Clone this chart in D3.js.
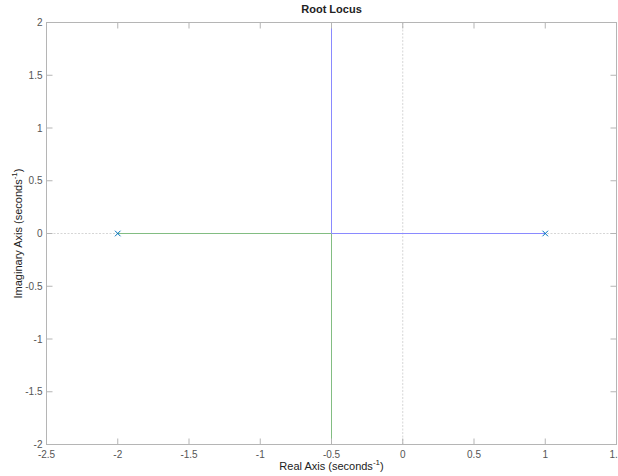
<!DOCTYPE html>
<html>
<head>
<meta charset="utf-8">
<script src="https://cdn.jsdelivr.net/npm/d3@7"></script>
<style>
  body { margin: 0; background: #fff; }
  svg { display: block; font-family: "Liberation Sans", Arial, Helvetica, sans-serif; }
</style>
</head>
<body>
<div id="chart"></div>
<script>
// dati del luogo delle radici
const xTicks = [-2.5, -2, -1.5, -1, -0.5, 0, 0.5, 1, 1.5];
const yTicks = [-2, -1.5, -1, -0.5, 0, 0.5, 1, 1.5, 2];
const poles = [[-2, 0], [1, 0]];
const branchGreen = [[-2, 0], [-0.5, 0], [-0.5, -2.5]];
const branchBlue = [[1, 0], [-0.5, 0], [-0.5, 2.5]];

const width = 618, height = 476;
const margin = { left: 46.5, right: 1.5, top: 22.5, bottom: 31.5 };

const svg = d3.select("#chart").append("svg")
  .attr("width", width)
  .attr("height", height);

const x = d3.scaleLinear().domain([-2.5, 1.5]).range([margin.left, width - margin.right]);
const y = d3.scaleLinear().domain([-2, 2]).range([height - margin.bottom, margin.top]);

svg.append("defs").append("clipPath").attr("id", "clip")
  .append("rect")
  .attr("x", x(-2.5)).attr("y", y(2))
  .attr("width", x(1.5) - x(-2.5)).attr("height", y(-2) - y(2));

// linee tratteggiate sugli assi
svg.append("line")
  .attr("x1", x(-2.5)).attr("x2", x(1.5))
  .attr("y1", y(0)).attr("y2", y(0))
  .attr("stroke", "#d6d6d6").attr("stroke-dasharray", "2,1.5");
svg.append("line")
  .attr("x1", x(0)).attr("x2", x(0))
  .attr("y1", y(2)).attr("y2", y(-2))
  .attr("stroke", "#d6d6d6").attr("stroke-dasharray", "2,1.5");

const line = d3.line().x(d => x(d[0])).y(d => y(d[1]));
const plot = svg.append("g").attr("clip-path", "url(#clip)");
plot.append("path").datum(branchGreen)
  .attr("d", line).attr("fill", "none").attr("stroke", "#82bd82").attr("stroke-width", 1);
plot.append("path").datum(branchBlue)
  .attr("d", line).attr("fill", "none").attr("stroke", "#8a8aff").attr("stroke-width", 1);

// poli
svg.selectAll(".pole").data(poles).enter().append("path")
  .attr("class", "pole")
  .attr("d", d3.symbol(d3.symbolX, 22))
  .attr("transform", d => `translate(${x(d[0])},${y(d[1])})`)
  .attr("fill", "none").attr("stroke", "#0072bd").attr("stroke-width", 1);

// assi
const axisColor = "#b5b5b5";
const tickLen = 6;
const axes = svg.append("g");

xTicks.forEach(t => {
  axes.append("line").attr("x1", x(t)).attr("x2", x(t))
    .attr("y1", y(-2)).attr("y2", y(-2) - tickLen).attr("stroke", axisColor);
  axes.append("line").attr("x1", x(t)).attr("x2", x(t))
    .attr("y1", y(2)).attr("y2", y(2) + tickLen).attr("stroke", axisColor);
  axes.append("text").attr("x", x(t)).attr("y", y(-2) + 13)
    .attr("text-anchor", "middle").attr("font-size", 10).attr("fill", "#555")
    .text(t);
});
yTicks.forEach(t => {
  axes.append("line").attr("x1", x(-2.5)).attr("x2", x(-2.5) + tickLen)
    .attr("y1", y(t)).attr("y2", y(t)).attr("stroke", axisColor);
  axes.append("line").attr("x1", x(1.5)).attr("x2", x(1.5) - tickLen)
    .attr("y1", y(t)).attr("y2", y(t)).attr("stroke", axisColor);
  axes.append("text").attr("x", x(-2.5) - 4).attr("y", y(t) + 3.5)
    .attr("text-anchor", "end").attr("font-size", 10).attr("fill", "#555")
    .text(t);
});
axes.append("rect")
  .attr("x", x(-2.5)).attr("y", y(2))
  .attr("width", x(1.5) - x(-2.5)).attr("height", y(-2) - y(2))
  .attr("fill", "none").attr("stroke", axisColor);

// titolo ed etichette
const cx = (x(-2.5) + x(1.5)) / 2;
svg.append("text").attr("x", cx).attr("y", 13)
  .attr("text-anchor", "middle").attr("font-size", 11).attr("font-weight", "bold").attr("fill", "#222")
  .text("Root Locus");

const xl = svg.append("text").attr("x", cx).attr("y", 470)
  .attr("text-anchor", "middle").attr("font-size", 11).attr("fill", "#222");
xl.append("tspan").text("Real Axis (seconds");
xl.append("tspan").attr("dy", -5).attr("font-size", 8).text("-1");
xl.append("tspan").attr("dy", 5).text(")");

const yl = svg.append("text")
  .attr("transform", `translate(22,${y(0)}) rotate(-90)`)
  .attr("text-anchor", "middle").attr("font-size", 11).attr("fill", "#222");
yl.append("tspan").text("Imaginary Axis (seconds");
yl.append("tspan").attr("dy", -5).attr("font-size", 8).text("-1");
yl.append("tspan").attr("dy", 5).text(")");
</script>
</body>
</html>
